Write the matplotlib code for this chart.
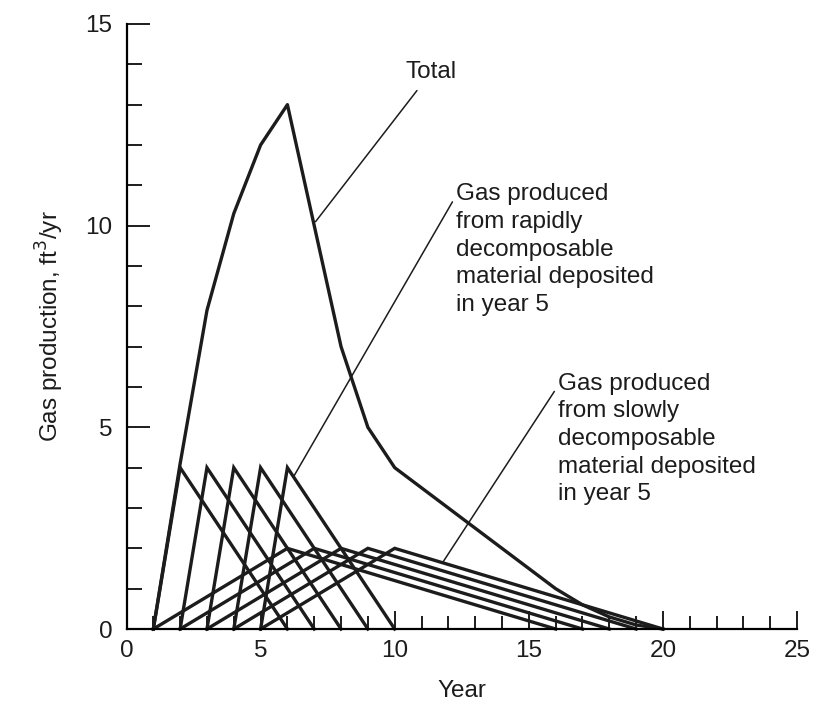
import matplotlib
matplotlib.use("Agg")
from matplotlib import pyplot as plt
from matplotlib.ticker import MultipleLocator

plt.rcParams['font.family'] = ['Liberation Sans', 'DejaVu Sans']

# years in which material is deposited
deposit_years = [1, 2, 3, 4, 5]

# rapidly decomposable: triangle offsets (years after deposit) and rates
rapid_offsets = [0, 1, 5]
rapid_rates = [0, 4, 0]

# slowly decomposable: triangle offsets and rates
slow_offsets = [0, 5, 15]
slow_rates = [0, 2, 0]

# total gas production
total_years = [1, 2, 3, 4, 5, 6, 7, 8, 9, 10, 11, 12, 13, 14, 15, 16, 17, 18, 19, 20]
total_rates = [0, 4.1, 7.9, 10.3, 12.0, 13.0, 10.0, 7.0, 5.0, 4.0,
               3.5, 3.0, 2.5, 2.0, 1.5, 1.0, 0.6, 0.3, 0.1, 0]

ink = "#1c1c1c"
fs = 17.5

fig = plt.figure(figsize=(8.14, 7.25), dpi=100)
ax = fig.add_axes([126.5 / 814, 1 - 629 / 725, (797 - 126.5) / 814, (629 - 24) / 725])

for d in deposit_years:
    ax.plot([d + o for o in rapid_offsets], rapid_rates, color=ink, lw=2.4,
            solid_joinstyle='miter', clip_on=False)
    ax.plot([d + o for o in slow_offsets], slow_rates, color=ink, lw=2.4,
            solid_joinstyle='miter', clip_on=False)

ax.plot(total_years, total_rates, color=ink, lw=2.4, clip_on=False)

ax.set_xlim(0, 25)
ax.set_ylim(0, 15)
ax.spines['top'].set_visible(False)
ax.spines['right'].set_visible(False)
ax.spines['left'].set_linewidth(1.6)
ax.spines['bottom'].set_linewidth(1.6)

ax.xaxis.set_major_locator(MultipleLocator(5))
ax.xaxis.set_minor_locator(MultipleLocator(1))
ax.yaxis.set_major_locator(MultipleLocator(5))
ax.yaxis.set_minor_locator(MultipleLocator(1))
ax.tick_params(axis='x', which='major', direction='in', length=13, width=1.4,
               pad=8, labelsize=fs, colors=ink)
ax.tick_params(axis='x', which='minor', direction='in', length=9.5, width=1.4, colors=ink)
ax.tick_params(axis='y', which='major', direction='in', length=16.5, width=1.4,
               pad=10, labelsize=fs, colors=ink)
ax.tick_params(axis='y', which='minor', direction='in', length=11, width=1.4, colors=ink)

ax.set_xlabel("Year", fontsize=fs, color=ink, labelpad=13)
ax.set_ylabel("Gas production, ft$^3$/yr", fontsize=fs, color=ink, labelpad=14)

# annotations with thin leader lines
ax.annotate("Total", xy=(7.05, 10.1), xytext=(10.4, 13.8),
            fontsize=fs, color=ink, va='center', ha='left',
            arrowprops=dict(arrowstyle='-', color=ink, lw=1.1, shrinkA=4, shrinkB=0))
ax.annotate("Gas produced\nfrom rapidly\ndecomposable\nmaterial deposited\nin year 5",
            xy=(6.25, 3.8), xytext=(12.3, 11.05),
            fontsize=fs, color=ink, va='top', ha='left', linespacing=1.33,
            arrowprops=dict(arrowstyle='-', color=ink, lw=1.1, shrinkA=0, shrinkB=0,
                            relpos=(-0.02, 0.86)))
ax.annotate("Gas produced\nfrom slowly\ndecomposable\nmaterial deposited\nin year 5",
            xy=(11.8, 1.66), xytext=(16.1, 6.35),
            fontsize=fs, color=ink, va='top', ha='left', linespacing=1.33,
            arrowprops=dict(arrowstyle='-', color=ink, lw=1.1, shrinkA=0, shrinkB=0,
                            relpos=(-0.02, 0.86)))

fig.savefig("out.png", dpi=100, facecolor='white')
